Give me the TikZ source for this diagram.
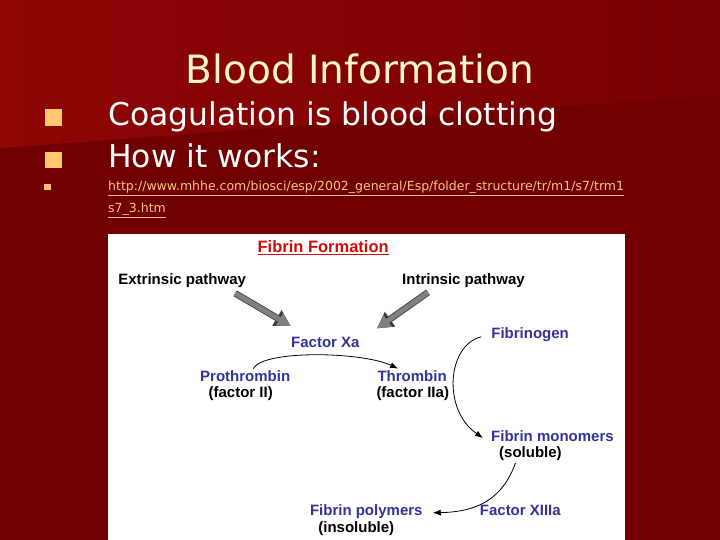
\documentclass[tikz,border=0pt]{standalone}
\usepackage{fontspec}
\setmainfont{DejaVu Sans}
\newfontfamily\diagfont{Liberation Sans}
\usetikzlibrary{arrows.meta}
\definecolor{slidered}{RGB}{112,0,0}
\definecolor{slidetop}{RGB}{142,6,6}
\definecolor{slidetopr}{RGB}{120,0,0}
\definecolor{bulletcol}{RGB}{255,200,112}
\definecolor{titlecol}{RGB}{255,247,200}
\definecolor{linkcol}{RGB}{255,196,130}
\definecolor{fibblue}{RGB}{51,51,153}
\definecolor{fibred}{RGB}{210,10,10}
\definecolor{fatgray}{RGB}{128,128,128}
\definecolor{fatedge}{RGB}{60,60,60}

\begin{document}
\begin{tikzpicture}[
  x=1pt, y=-1pt,
  body/.style={anchor=base west, inner sep=0pt, text=white,
               font=\fontsize{31.4}{36}\selectfont},
  urltext/.style={anchor=base west, inner sep=0pt, text=linkcol,
                  font=\fontsize{12.5}{15}\selectfont},
  lbl/.style={anchor=base west, inner sep=2pt,
              font=\diagfont\bfseries\fontsize{15}{18}\selectfont},
  bluelbl/.style={lbl, text=fibblue},
  link/.style={-{Latex[length=8pt,width=6pt]}, line width=0.8pt},
  fat/.style={line width=5pt, draw=fatgray, shorten >=1.5pt,
              -{Triangle[length=13pt,width=13.5pt]},
              preaction={draw=fatedge, line width=6.6pt,
                         -{Triangle[length=16pt,width=17pt]}}}
]
\useasboundingbox (0,0) rectangle (720,540);
% slide background
\fill[slidered] (0,0) rectangle (720,540);
\shade[left color=slidetop, right color=slidetopr]
  (0,0) -- (720,0) -- (720,95) -- (0,148) -- cycle;

% bullets
\fill[bulletcol] (45,109.5) rectangle (61.5,126);
\fill[bulletcol] (45,152) rectangle (61.5,168.5);
\fill[bulletcol] (44,184) rectangle (50.5,190.5);

\node[anchor=base, inner sep=0pt, text=titlecol,
      font=\fontsize{39}{44}\selectfont] (title) at (360,83.3) {Blood Information};
\node[body] (coag) at (108,126) {Coagulation is blood clotting};
\node[body] (how) at (108,168) {How it works:};
\node[urltext] (url) at (108,190.7)
  {\underline{http://www.mhhe.com/biosci/esp/2002\_general/Esp/folder\_structure/tr/m1/s7/trm1}};
\node[urltext] (url2) at (108,212.7) {\underline{s7\_3.htm}};

% diagram panel
\fill[white] (108,234) rectangle (625,540);

\node[lbl, text=fibred, font=\diagfont\bfseries\fontsize{16.5}{19}\selectfont]
  (head) at (255.4,252.7) {\underline{Fibrin Formation}};
\node[lbl] (ext) at (116.2,284) {Extrinsic pathway};
\node[lbl] (intr) at (400,284) {Intrinsic pathway};
\node[bluelbl] (xa) at (289,347.3) {Factor Xa};
\node[bluelbl] (pro) at (198,381.7) {Prothrombin};
\node[lbl] (proii) at (206.4,397.5) {(factor II)};
\node[bluelbl] (thr) at (375.3,381.7) {Thrombin};
\node[lbl] (thrii) at (374.3,397.5) {(factor IIa)};
\node[bluelbl] (fgen) at (489.2,338.7) {Fibrinogen};
\node[bluelbl] (mono) at (489,441.3) {Fibrin monomers};
\node[lbl] (sol) at (497,457.7) {(soluble)};
\node[bluelbl] (poly) at (307.8,515.7) {Fibrin polymers};
\node[lbl] (insol) at (316.2,532) {(insoluble)};
\node[bluelbl] (f13) at (477.7,515.7) {Factor XIIIa};

% pathways into factor Xa
\draw[fat] ([xshift=-13pt,yshift=-4pt]ext.south east) -- ([xshift=3pt,yshift=8pt]xa.north west);
\draw[fat] ([xshift=28pt,yshift=-3pt]intr.south west) -- ([xshift=14pt,yshift=5.5pt]xa.north east);

% conversions
\draw[link] ([xshift=8pt]pro.north) .. controls +(10,-19) and +(-36,-17) .. ([xshift=-14pt]thr.north);
\draw[link] ([xshift=-8pt,yshift=-2pt]fgen.west) .. controls +(-34,8) and +(-41,-28) .. ([xshift=-6pt,yshift=-2pt]mono.west);
\draw[link] ([xshift=-15pt]sol.south) .. controls +(-13,36) and +(45,-1) .. ([xshift=8pt,yshift=-1pt]poly.east);
\end{tikzpicture}
\end{document}
